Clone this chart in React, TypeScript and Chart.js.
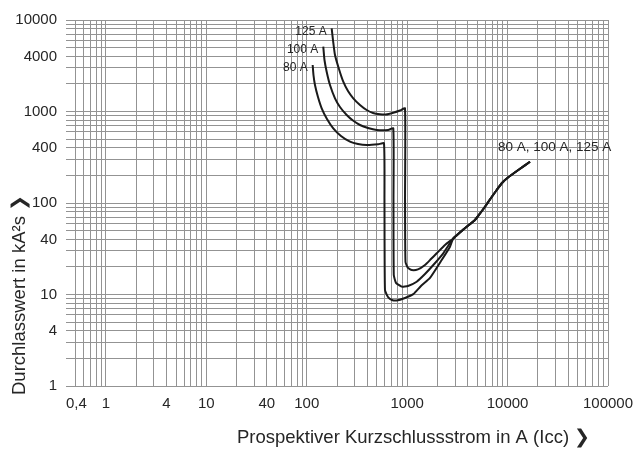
import React, { useEffect, useRef } from "react";
import { Chart, registerables } from "chart.js";

Chart.register(...registerables);

// ---- Data (prospective short-circuit current in A, let-through energy in kA²s) ----
const current80 = [114.5, 116.6, 120.7, 129.3, 140.8, 158.9, 183.6, 219.1, 269.4, 323.6, 395, 515.5, 587.3, 594, 600.9, 643.9, 705.8, 786, 951, 1150, 1372, 1687, 2206, 2669, 2879];
const i2t80 = [3222, 2506, 1948, 1440, 1084, 828, 655, 540, 468, 441, 430, 438, 449, 108, 11.2, 9.39, 8.71, 8.6, 9.16, 10.1, 12.4, 15.15, 23.8, 33.3, 41];

const current100 = [146, 150.1, 157.8, 170.3, 191, 214.1, 249.7, 288.6, 338.8, 406.9, 496.9, 648.3, 727.1, 730.3, 735.4, 773.4, 881.7, 1019, 1243, 1504, 1820, 2288, 2879];
const i2t100 = [5108, 3654, 2723, 1948, 1394, 1120, 916, 797, 712, 660, 628, 628, 655, 108, 16.3, 13.4, 12.2, 12.4, 13.8, 16.75, 21, 28.2, 41];

const current125 = [177, 182.4, 191, 209.2, 230.9, 257.3, 290.5, 338.8, 395, 456.4, 535.9, 614.9, 727.1, 847.9, 951, 952, 962, 1019, 1109, 1281, 1504, 1726, 1967, 2380, 2879];
const i2t125 = [8115, 6045, 4145, 2914, 2117, 1675, 1394, 1178, 1038, 963, 932, 927, 970, 1025, 1084, 108, 22.7, 19.5, 18.5, 18.8, 21, 24.4, 28.2, 34.75, 41];

const commonCurrent = [2879, 3679, 4735, 5311, 5956, 6833, 7788, 8795, 10162, 12990, 16720];
const commonI2t = [41, 52, 65.2, 76.8, 91.1, 113.4, 138.7, 165.4, 190.9, 232.3, 282.7];

const curveLabels = ["80 A", "100 A", "125 A"];
const commonLabel = "80 A, 100 A, 125 A";

const xLabelValues = [0.4, 1, 4, 10, 40, 100, 1000, 10000, 100000];
const yLabelValues = [1, 4, 10, 40, 100, 400, 1000, 4000, 10000];
const xMin = 0.4;
const xMax = 100000;
const yMin = 1;
const yMax = 10000;
const gridMultipliers = [1, 2, 3, 4, 5, 6, 7, 8, 9];
const xDecades = [0.1, 1, 10, 100, 1000, 10000, 100000];
const yDecades = [1, 10, 100, 1000, 10000];

const xTitle = "Prospektiver Kurzschlussstrom in A (Icc) \u276F";
const yTitle = "Durchlasswert in kA\u00B2s \u276F";

// ---- Styles ----
const FONT = '"Liberation Sans", Arial, Helvetica, sans-serif';
const TEXT = "#262626";
const GRID = "#939393";
const LINE = "#1a1a1a";
const TICK_SIZE = 15;
const TICK_PAD = 9;
const TITLE_SIZE = 18.5;

function gridValues(decades: number[], min: number, max: number): number[] {
  const out: number[] = [];
  decades.forEach((d) =>
    gridMultipliers.forEach((m) => {
      const v = Number((d * m).toPrecision(6));
      if (v >= min - 1e-9 && v <= max + 1e-9 && !out.includes(v)) out.push(v);
    })
  );
  if (!out.includes(min)) out.unshift(min);
  return out.sort((a, b) => a - b);
}

const xGrid = gridValues(xDecades, xMin, xMax);
const yGrid = gridValues(yDecades, yMin, yMax);

const fmt = (v: number) => String(v).replace(".", ",");

const toPoints = (xs: number[], ys: number[]) => xs.map((x, i) => ({ x, y: ys[i] }));

const curves = [
  { label: curveLabels[0], xs: [...current80, ...commonCurrent.slice(1)], ys: [...i2t80, ...commonI2t.slice(1)] },
  { label: curveLabels[1], xs: [...current100, ...commonCurrent.slice(1)], ys: [...i2t100, ...commonI2t.slice(1)] },
  { label: curveLabels[2], xs: [...current125, ...commonCurrent.slice(1)], ys: [...i2t125, ...commonI2t.slice(1)] },
];

const annotationPlugin = {
  id: "curveAnnotations",
  afterDraw(chart: any) {
    const { ctx, scales } = chart;
    const x = scales.x;
    const y = scales.y;
    ctx.save();
    ctx.fillStyle = TEXT;
    ctx.font = `12px ${FONT}`;
    ctx.textBaseline = "middle";
    ctx.textAlign = "right";
    curves.forEach((c) => {
      const px = x.getPixelForValue(c.xs[0]);
      const py = y.getPixelForValue(c.ys[0]);
      ctx.fillText(c.label, px - 5, py + 3);
    });
    const ex = x.getPixelForValue(commonCurrent[commonCurrent.length - 1]);
    const ey = y.getPixelForValue(commonI2t[commonI2t.length - 1]);
    ctx.font = `13.5px ${FONT}`;
    ctx.textAlign = "left";
    ctx.fillText(commonLabel, ex - 32, ey - 14);

    // first x tick label, aligned to the start of the axis
    ctx.font = `${TICK_SIZE}px ${FONT}`;
    ctx.textAlign = "left";
    ctx.fillText(fmt(xMin), x.getPixelForValue(xMin), x.top + TICK_PAD + (TICK_SIZE * 1.2) / 2);

    // axis titles
    ctx.font = `${TITLE_SIZE}px ${FONT}`;
    ctx.textAlign = "left";
    ctx.textBaseline = "middle";
    ctx.fillText(xTitle, x.left + 171, chart.height - 12);
    ctx.translate(20, y.bottom + 9);
    ctx.rotate(-Math.PI / 2);
    ctx.fillText(yTitle, 0, 0);
    ctx.restore();
  },
};

export default function App() {
  const ref = useRef<HTMLCanvasElement>(null);
  useEffect(() => {
    if (!ref.current) return;
    const chart = new Chart(ref.current, {
      type: "line",
      data: {
        datasets: curves.map((c) => ({
          label: c.label,
          data: toPoints(c.xs, c.ys),
          borderColor: LINE,
          borderWidth: 2,
          pointRadius: 0,
          tension: 0.15,
          fill: false,
        })),
      },
      options: {
        responsive: false,
        animation: false,
        devicePixelRatio: 1,
        layout: { padding: { left: 0, top: 20, right: 27, bottom: 0 } },
        plugins: { legend: { display: false }, tooltip: { enabled: false } },
        scales: {
          x: {
            type: "logarithmic",
            min: xMin,
            max: xMax,
            afterBuildTicks: (s: any) => {
              s.ticks = xGrid.map((v) => ({ value: v }));
            },
            afterFit: (s: any) => {
              s.height = 64;
              s.paddingLeft = 0;
              s.paddingRight = 0;
            },
            ticks: {
              autoSkip: false,
              maxRotation: 0,
              minRotation: 0,
              padding: TICK_PAD,
              color: TEXT,
              font: { family: FONT, size: TICK_SIZE },
              callback: (v: any) => (xLabelValues.includes(Number(v)) && Number(v) !== xMin ? fmt(Number(v)) : ""),
            },
            grid: {
              color: (c: any) => (c.tick && c.tick.value === xMin ? "rgba(0,0,0,0)" : GRID),
              lineWidth: 1,
              drawTicks: false,
            },
            border: { display: false },
            title: { display: false },
          },
          y: {
            type: "logarithmic",
            min: yMin,
            max: yMax,
            afterBuildTicks: (s: any) => {
              s.ticks = yGrid.map((v) => ({ value: v }));
            },
            afterFit: (s: any) => {
              s.width = 66;
              s.paddingTop = 0;
              s.paddingBottom = 0;
            },
            ticks: {
              autoSkip: false,
              padding: TICK_PAD,
              color: TEXT,
              font: { family: FONT, size: TICK_SIZE },
              callback: (v: any) => (yLabelValues.includes(Number(v)) ? fmt(Number(v)) : ""),
            },
            grid: { color: GRID, lineWidth: 1, drawTicks: false },
            border: { display: false },
            title: { display: false },
          },
        },
      },
      plugins: [annotationPlugin],
    } as any);
    return () => chart.destroy();
  }, []);
  return (
    <div style={{ position: "fixed", left: 0, top: 0, width: 635, height: 450, background: "#fff" }}>
      <canvas ref={ref} width={635} height={450} style={{ display: "block", width: 635, height: 450 }} />
    </div>
  );
}
